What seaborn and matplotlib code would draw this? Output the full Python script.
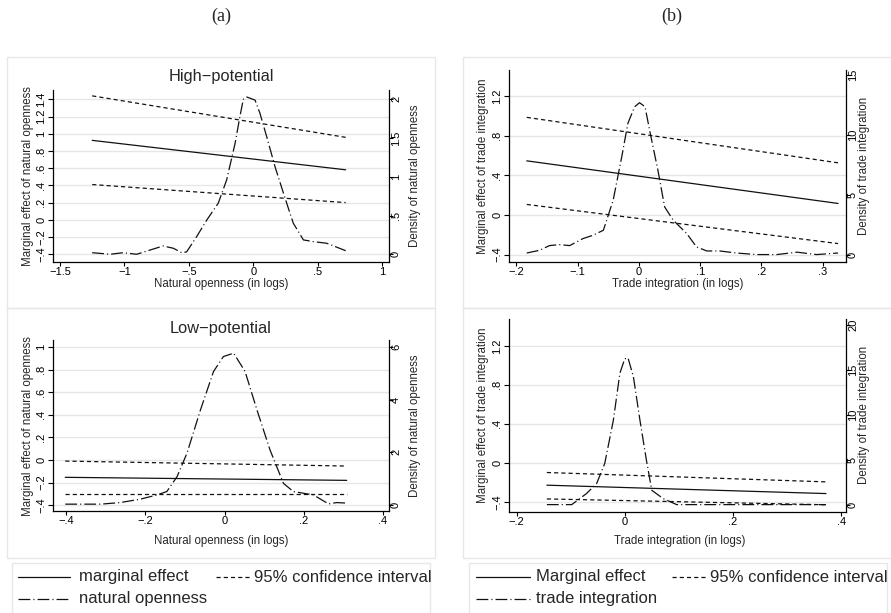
import matplotlib
matplotlib.use("Agg")
import matplotlib.pyplot as plt
from matplotlib.lines import Line2D
from matplotlib.patches import Rectangle
import pandas as pd
import seaborn as sns

sns.set_theme(style="white")
plt.rcParams["font.family"] = ["Liberation Sans", "DejaVu Sans"]
plt.rcParams["lines.scale_dashes"] = False
plt.rcParams["axes.unicode_minus"] = True

W, H = 891, 613
fig = plt.figure(figsize=(W / 100, H / 100), dpi=100)
fig.patch.set_facecolor("white")

INK = "#111111"
GRID = "#e6e6e6"
BORDER = "#e8e8e8"
SHORT_DASH = (0, (3.0, 2.2))
LONG_DASH_DOT = (0, (8.5, 2.2, 0.8, 2.2))

# ---------------- data ----------------
# (a) natural openness, high-potential
hi_nat_x = [-1.25, 0.716]
hi_nat_me = [0.923, 0.581]
hi_nat_ci_hi = [1.44, 0.958]
hi_nat_ci_lo = [0.41, 0.20]
hi_nat_dens_x = [-1.25, -1.11, -1.01, -0.905, -0.80, -0.70, -0.62, -0.556, -0.518,
                 -0.44, -0.362, -0.272, -0.207, -0.142, -0.104, -0.078, -0.052, 0.013,
                 0.051, 0.103, 0.168, 0.233, 0.284, 0.31, 0.388, 0.465, 0.569, 0.716]
hi_nat_dens = [0.02, 0.0, 0.02, 0.0, 0.055, 0.107, 0.077, 0.02, 0.03,
               0.227, 0.44, 0.66, 0.96, 1.43, 1.78, 2.0, 2.03, 1.99,
               1.82, 1.52, 1.13, 0.79, 0.53, 0.40, 0.185, 0.163, 0.142, 0.046]

# (a) natural openness, low-potential
lo_nat_x = [-0.403, 0.309]
lo_nat_me = [-0.154, -0.181]
lo_nat_ci_hi = [-0.01, -0.054]
lo_nat_ci_lo = [-0.30, -0.30]
lo_nat_dens_x = [-0.403, -0.314, -0.264, -0.213, -0.171, -0.146, -0.12, -0.095, -0.061,
                 -0.028, -0.003, 0.023, 0.052, 0.082, 0.115, 0.149, 0.174, 0.225,
                 0.263, 0.284, 0.309]
lo_nat_dens = [0.03, 0.03, 0.09, 0.22, 0.38, 0.51, 1.08, 1.97, 3.61,
               5.07, 5.64, 5.77, 5.07, 3.61, 2.09, 0.82, 0.51, 0.38,
               0.04, 0.09, 0.07]

# (b) trade integration, high-potential
hi_tr_x = [-0.183, 0.325]
hi_tr_me = [0.546, 0.116]
hi_tr_ci_hi = [0.985, 0.526]
hi_tr_ci_lo = [0.106, -0.289]
hi_tr_dens_x = [-0.183, -0.162, -0.146, -0.13, -0.113, -0.091, -0.075, -0.058, -0.042,
                -0.028, -0.018, -0.007, 0.001, 0.01, 0.018, 0.031, 0.042, 0.056,
                0.078, 0.094, 0.111, 0.132, 0.159, 0.192, 0.225, 0.258, 0.29, 0.325]
hi_tr_dens = [0.13, 0.36, 0.75, 0.83, 0.75, 1.34, 1.61, 2.03, 4.54,
              8.16, 10.95, 12.34, 12.68, 12.34, 10.25, 7.05, 3.98, 2.87,
              1.76, 0.64, 0.30, 0.30, 0.13, 0.0, 0.0, 0.2, 0.0, 0.13]

# (b) trade integration, low-potential
lo_tr_x = [-0.144, 0.372]
lo_tr_me = [-0.229, -0.315]
lo_tr_ci_hi = [-0.099, -0.195]
lo_tr_ci_lo = [-0.37, -0.43]
lo_tr_dens_x = [-0.144, -0.098, -0.071, -0.052, -0.037, -0.021, -0.009, 0.0, 0.006,
                0.016, 0.028, 0.04, 0.05, 0.071, 0.096, 0.17, 0.372]
lo_tr_dens = [0.0, 0.0, 1.22, 2.34, 4.57, 9.4, 14.6, 16.2, 16.3,
              14.2, 9.4, 4.94, 1.59, 0.67, 0.0, 0.0, 0.0]

# tick values
hi_nat_xticks = [-1.5, -1, -0.5, 0, 0.5, 1]
hi_nat_yticks = [-0.4, -0.2, 0, 0.2, 0.4, 0.6, 0.8, 1, 1.2, 1.4]
hi_nat_y2ticks = [0, 0.5, 1, 1.5, 2]
lo_nat_xticks = [-0.4, -0.2, 0, 0.2, 0.4]
lo_nat_yticks = [-0.4, -0.2, 0, 0.2, 0.4, 0.6, 0.8, 1]
lo_nat_y2ticks = [0, 2, 4, 6]
hi_tr_xticks = [-0.2, -0.1, 0, 0.1, 0.2, 0.3]
tr_yticks = [-0.4, 0, 0.4, 0.8, 1.2]
hi_tr_y2ticks = [0, 5, 10, 15]
lo_tr_xticks = [-0.2, 0, 0.2, 0.4]
lo_tr_y2ticks = [0, 5, 10, 15, 20]

titles = ["(a)", "(b)"]
panel_titles = ["High\u2212potential", "Low\u2212potential"]
nat_xlabel = "Natural openness (in logs)"
nat_ylabel = "Marginal effect of natural openness"
nat_y2label = "Density of natural openness"
tr_xlabel = "Trade integration (in logs)"
tr_ylabel = "Marginal effect of trade integration"
tr_y2label = "Density of trade integration"
legend_a = ["marginal effect", "95% confidence interval", "natural openness"]
legend_b = ["Marginal effect", "95% confidence interval", "trade integration"]


def stata_fmt(v):
    s = f"{v:.10g}"
    if s.startswith("0."):
        s = s[1:]
    elif s.startswith("-0."):
        s = "-" + s[2:]
    return s.replace("-", "\u2212")


def fx(px):
    return px / W


def fy(py):
    return 1 - py / H


def frame(l, t, r, b, ec=BORDER):
    fig.add_artist(Rectangle((fx(l), fy(b)), fx(r - l), (b - t) / H, fill=False,
                             ec=ec, lw=1.0, transform=fig.transFigure, clip_on=False))


TICK = 8.0


def panel(box, xlim, ylim, y2lim, xticks, yticks, y2ticks, x, me, lo, hi,
          dens_x, dens):
    l, t, r, b = box
    ax = fig.add_axes([fx(l), fy(b), fx(r - l), (b - t) / H])
    ax.set_facecolor("white")
    for v in yticks:
        ax.axhline(v, color=GRID, lw=1.0, zorder=0)
    lines = pd.DataFrame({"x": x, "me": me, "lo": lo, "hi": hi})
    sns.lineplot(data=lines, x="x", y="me", ax=ax, color=INK, lw=0.9, linestyle="-")
    sns.lineplot(data=lines, x="x", y="hi", ax=ax, color=INK, lw=0.9, linestyle=SHORT_DASH)
    sns.lineplot(data=lines, x="x", y="lo", ax=ax, color=INK, lw=0.9, linestyle=SHORT_DASH)
    ax.set_xlim(xlim)
    ax.set_ylim(ylim)
    ax.set_xlabel("")
    ax.set_ylabel("")

    ax2 = ax.twinx()
    dd = pd.DataFrame({"x": dens_x, "d": dens})
    sns.lineplot(data=dd, x="x", y="d", ax=ax2, color=INK, lw=0.9, linestyle=LONG_DASH_DOT)
    ax2.set_ylim(y2lim)
    ax2.set_xlim(xlim)
    ax2.set_ylabel("")
    ax2.set_xlabel("")

    for sp in ["top", "right"]:
        ax.spines[sp].set_visible(False)
    for sp in ["top", "left", "bottom"]:
        ax2.spines[sp].set_visible(False)
    for sp in ["left", "bottom"]:
        ax.spines[sp].set_color("black")
        ax.spines[sp].set_linewidth(0.9)
    ax2.spines["right"].set_color("black")
    ax2.spines["right"].set_linewidth(0.9)

    ax.set_xticks(xticks)
    ax.set_xticklabels([stata_fmt(v) for v in xticks])
    ax.set_yticks(yticks)
    ax.set_yticklabels([stata_fmt(v) for v in yticks], rotation=90, va="center")
    ax2.set_yticks(y2ticks)
    ax2.set_yticklabels([stata_fmt(v) for v in y2ticks], rotation=90, va="center")

    ax.tick_params(axis="x", bottom=True, direction="out", length=3.0, width=0.8,
                   color="black", labelsize=TICK, pad=0.5, labelcolor="black")
    ax.tick_params(axis="y", left=True, direction="out", length=3.5, width=0.8,
                   color="black", labelsize=TICK, pad=1.2, labelcolor="black")
    ax2.tick_params(axis="y", right=True, left=False, direction="out", length=3.0,
                    width=0.8, color="black", labelsize=TICK, pad=-1.5, labelcolor="black")
    return ax


LAB = 8.3

# --------- panel frames ---------
frame(7, 57, 435, 308)
frame(7, 308, 435, 558)
frame(463, 57, 896, 308)
frame(463, 308, 896, 558)

# --------- (a) high-potential ---------
panel((53, 90, 389, 262), (-1.554, 1.052), (-0.49, 1.508), (-0.1, 2.12),
      hi_nat_xticks, hi_nat_yticks, hi_nat_y2ticks,
      hi_nat_x, hi_nat_me, hi_nat_ci_lo, hi_nat_ci_hi, hi_nat_dens_x, hi_nat_dens)
fig.text(fx(221), fy(76), panel_titles[0], ha="center", va="center", fontsize=11.8)
fig.text(fx(221), fy(284), nat_xlabel, ha="center", va="center", fontsize=LAB)
fig.text(fx(28), fy(176), nat_ylabel, ha="center", va="center", rotation=90, fontsize=LAB)
fig.text(fx(415), fy(176), nat_y2label, ha="center", va="center", rotation=90, fontsize=LAB)

# --------- (a) low-potential ---------
panel((53, 340, 389, 511), (-0.434, 0.416), (-0.453, 1.065), (-0.23, 6.27),
      lo_nat_xticks, lo_nat_yticks, lo_nat_y2ticks,
      lo_nat_x, lo_nat_me, lo_nat_ci_lo, lo_nat_ci_hi, lo_nat_dens_x, lo_nat_dens)
fig.text(fx(221), fy(328), panel_titles[1], ha="center", va="center", fontsize=11.8)
fig.text(fx(221), fy(541), nat_xlabel, ha="center", va="center", fontsize=LAB)
fig.text(fx(28), fy(426), nat_ylabel, ha="center", va="center", rotation=90, fontsize=LAB)
fig.text(fx(415), fy(426), nat_y2label, ha="center", va="center", rotation=90, fontsize=LAB)

# --------- (b) high-potential ---------
panel((509, 70, 846, 262), (-0.212, 0.338), (-0.475, 1.463), (-0.62, 15.41),
      hi_tr_xticks, tr_yticks, hi_tr_y2ticks,
      hi_tr_x, hi_tr_me, hi_tr_ci_lo, hi_tr_ci_hi, hi_tr_dens_x, hi_tr_dens)
fig.text(fx(678), fy(284), tr_xlabel, ha="center", va="center", fontsize=LAB)
fig.text(fx(483), fy(166), tr_ylabel, ha="center", va="center", rotation=90, fontsize=LAB)
fig.text(fx(864), fy(166), tr_y2label, ha="center", va="center", rotation=90, fontsize=LAB)

# --------- (b) low-potential ---------
panel((509, 319, 846, 512), (-0.214, 0.409), (-0.504, 1.475), (-0.82, 20.62),
      lo_tr_xticks, tr_yticks, lo_tr_y2ticks,
      lo_tr_x, lo_tr_me, lo_tr_ci_lo, lo_tr_ci_hi, lo_tr_dens_x, lo_tr_dens)
fig.text(fx(680), fy(541), tr_xlabel, ha="center", va="center", fontsize=LAB)
fig.text(fx(483), fy(415), tr_ylabel, ha="center", va="center", rotation=90, fontsize=LAB)
fig.text(fx(864), fy(415), tr_y2label, ha="center", va="center", rotation=90, fontsize=LAB)

# --------- column titles ---------
fig.text(fx(221), fy(16), titles[0], ha="center", va="center", fontsize=13,
         family=["Liberation Serif", "DejaVu Serif"])
fig.text(fx(672), fy(16), titles[1], ha="center", va="center", fontsize=13,
         family=["Liberation Serif", "DejaVu Serif"])


# --------- legends ---------
def legend_row(x0, x1, y, style, label, tx):
    fig.add_artist(Line2D([fx(x0), fx(x1)], [fy(y), fy(y)], color=INK, lw=0.9,
                          linestyle=style, transform=fig.transFigure))
    fig.text(fx(tx), fy(y), label, ha="left", va="center", fontsize=12)


frame(12, 563, 430, 640)
legend_row(18, 70, 577, "-", legend_a[0], 79)
legend_row(216, 250, 577, SHORT_DASH, legend_a[1], 254)
legend_row(18, 70, 599, LONG_DASH_DOT, legend_a[2], 79)

frame(469, 563, 887, 640)
legend_row(476, 530, 577, "-", legend_b[0], 536)
legend_row(672, 706, 577, SHORT_DASH, legend_b[1], 710)
legend_row(476, 530, 599, LONG_DASH_DOT, legend_b[2], 536)

fig.savefig("out.png", dpi=100, facecolor="white")
